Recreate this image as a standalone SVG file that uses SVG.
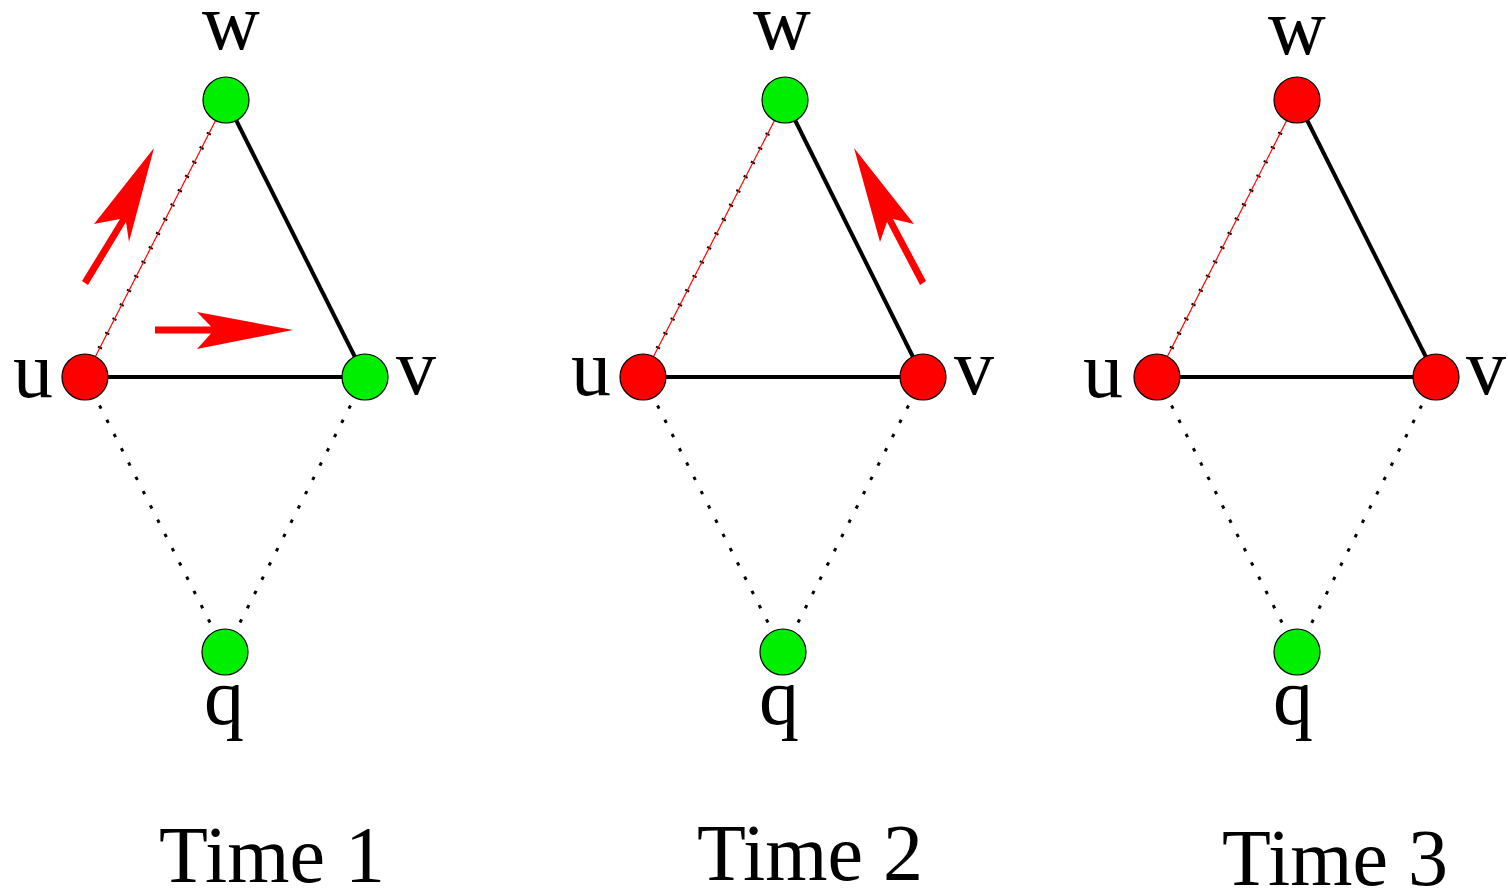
<svg xmlns="http://www.w3.org/2000/svg" width="1508" height="890" viewBox="0 0 1508 890">
<style>
.solid{stroke:#000;stroke-width:4;fill:none}
.dot{stroke:#000;stroke-width:3;stroke-dasharray:3.5 12.5;fill:none}
.tick{stroke:#000;stroke-width:4.5;stroke-dasharray:2 14;fill:none}
.red{stroke:#f00;stroke-width:1.2;fill:none}
.g{fill:#00ee00;stroke:#000;stroke-width:1.2}
.r{fill:#f00;stroke:#000;stroke-width:1.2}
.arrow{fill:#f00}
text{font-family:"Liberation Serif","Times New Roman",serif;font-size:80px;fill:#000;text-anchor:middle}
</style>
<g id="connectors">
  <line class="solid" x1="85" y1="377" x2="365" y2="377"/>
  <line class="solid" x1="226" y1="100" x2="365" y2="377"/>
  <line class="dot" x1="85" y1="377" x2="225" y2="652"/>
  <line class="dot" x1="365" y1="377" x2="225" y2="652"/>
  <line class="tick" x1="85" y1="377" x2="226" y2="100"/>
  <line class="red" x1="85" y1="377" x2="226" y2="100"/>

  <line class="solid" x1="643" y1="377" x2="923" y2="377"/>
  <line class="solid" x1="785" y1="100" x2="923" y2="377"/>
  <line class="dot" x1="643" y1="377" x2="783" y2="652"/>
  <line class="dot" x1="923" y1="377" x2="783" y2="652"/>
  <line class="tick" x1="643" y1="377" x2="785" y2="100"/>
  <line class="red" x1="643" y1="377" x2="785" y2="100"/>

  <line class="solid" x1="1157" y1="377" x2="1436" y2="377"/>
  <line class="solid" x1="1297" y1="100" x2="1436" y2="377"/>
  <line class="dot" x1="1157" y1="377" x2="1297" y2="652"/>
  <line class="dot" x1="1436" y1="377" x2="1297" y2="652"/>
  <line class="tick" x1="1157" y1="377" x2="1297" y2="100"/>
  <line class="red" x1="1157" y1="377" x2="1297" y2="100"/>

  <path class="arrow" d="M82,281 L120,219 L94,224 L154,148 L129,242 L126,222 L88,285 Z"/>
  <path class="arrow" d="M155,326.5 L211,326.5 L197,312 L293,330 L197,349 L211,333.5 L155,333.5 Z"/>
  <path class="arrow" d="M926,281 L893,219 L914,224 L854,148 L880,242 L887,222 L920,285 Z"/>
</g>
<g id="panel1">
  <circle class="g" cx="226" cy="100" r="23"/>
  <circle class="r" cx="85" cy="377" r="23"/>
  <circle class="g" cx="365" cy="377" r="23"/>
  <circle class="g" cx="225" cy="652" r="23"/>
  <text x="231" y="49">w</text>
  <text x="33" y="397">u</text>
  <text x="416" y="394">v</text>
  <text x="224" y="724">q</text>
  <text x="272" y="882">Time 1</text>
</g>
<g id="panel2">
  <circle class="g" cx="785" cy="100" r="23"/>
  <circle class="r" cx="643" cy="377" r="23"/>
  <circle class="r" cx="923" cy="377" r="23"/>
  <circle class="g" cx="783" cy="652" r="23"/>
  <text x="782" y="49">w</text>
  <text x="591" y="395">u</text>
  <text x="974" y="394">v</text>
  <text x="779" y="724">q</text>
  <text x="810" y="880">Time 2</text>
</g>
<g id="panel3">
  <circle class="r" cx="1297" cy="100" r="23"/>
  <circle class="r" cx="1157" cy="377" r="23"/>
  <circle class="r" cx="1436" cy="377" r="23"/>
  <circle class="g" cx="1297" cy="652" r="23"/>
  <text x="1297" y="54">w</text>
  <text x="1103" y="397">u</text>
  <text x="1486" y="394">v</text>
  <text x="1293" y="724">q</text>
  <text x="1335" y="885">Time 3</text>
</g>
</svg>
